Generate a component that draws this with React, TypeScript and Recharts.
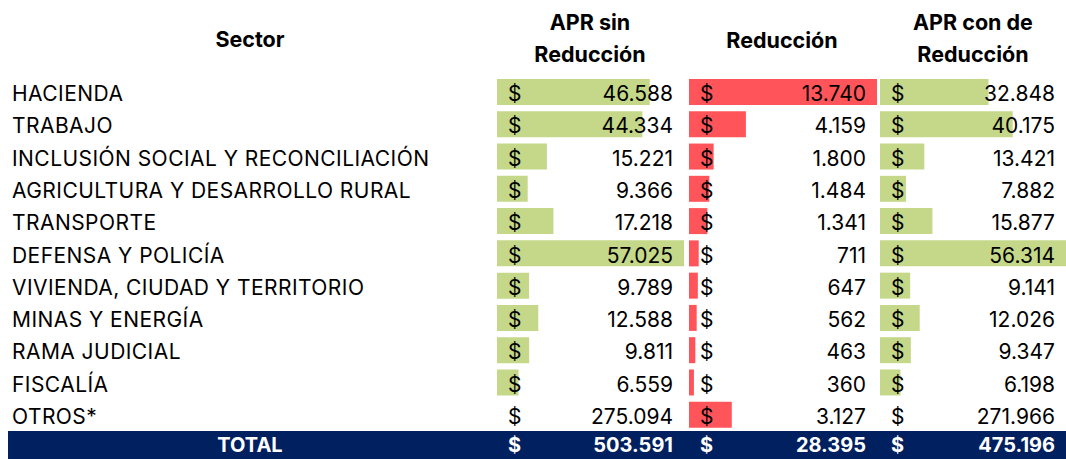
import React from "react";
import { BarChart, Bar, XAxis, YAxis } from "recharts";

const sectors = [
  "HACIENDA",
  "TRABAJO",
  "INCLUSIÓN SOCIAL Y RECONCILIACIÓN",
  "AGRICULTURA Y DESARROLLO RURAL",
  "TRANSPORTE",
  "DEFENSA Y POLICÍA",
  "VIVIENDA, CIUDAD Y TERRITORIO",
  "MINAS Y ENERGÍA",
  "RAMA JUDICIAL",
  "FISCALÍA",
  "OTROS*",
];
const aprSinReduccion = [46588, 44334, 15221, 9366, 17218, 57025, 9789, 12588, 9811, 6559, 275094];
const reduccion = [13740, 4159, 1800, 1484, 1341, 711, 647, 562, 463, 360, 3127];
const aprConReduccion = [32848, 40175, 13421, 7882, 15877, 56314, 9141, 12026, 9347, 6198, 271966];
const totals = [503591, 28395, 475196];
const headers = [["APR sin", "Reducción"], ["Reducción"], ["APR con de", "Reducción"]];
// rows that carry a data bar in the green columns (OTROS* has none)
const greenBarRows = 10;

const GREEN = "#C5D88A";
const RED = "#FF555A";
const NAVY = "#002060";
const FONT = "Inter, 'Liberation Sans', Arial, sans-serif";

const fmt = (v: number) => String(v).replace(/\B(?=(\d{3})+(?!\d))/g, ".");

const data = sectors.map((s, i) => ({
  sector: s,
  aprSin: aprSinReduccion[i],
  red: reduccion[i],
  aprCon: aprConReduccion[i],
  aprSinBar: i < greenBarRows ? aprSinReduccion[i] : null,
  redBar: reduccion[i],
  aprConBar: i < greenBarRows ? aprConReduccion[i] : null,
}));

const BODY_TOP = 76;
const BODY_H = 355;
const FS = 21;
const HFS = 21.5;
const AXIS_W = 1;

const columns = [
  { key: "aprSin", barKey: "aprSinBar", left: 497, width: 187, color: GREEN, center: 590 },
  { key: "red", barKey: "redBar", left: 689, width: 188, color: RED, center: 782 },
  { key: "aprCon", barKey: "aprConBar", left: 880, width: 186, color: GREEN, center: 973 },
];

function makeTick(colIdx: number, plotLeft: number) {
  const col = columns[colIdx];
  return (props: any) => {
    const { y, payload } = props;
    const i = sectors.indexOf(payload.value);
    const row: any = data[i];
    const base = y + 9;
    const dollarX = plotLeft + 11;
    const valX = plotLeft + col.width - 11;
    return (
      <g>
        {colIdx === 0 && (
          <text x={12} y={base} fontSize={FS} fill="#000" textAnchor="start" letterSpacing={0.45}>
            {row.sector}
          </text>
        )}
        <text x={dollarX} y={base} fontSize={FS} fill="#000" textAnchor="start">
          $
        </text>
        <text x={valX} y={base} fontSize={FS} fill="#000" textAnchor="end">
          {fmt(row[col.key])}
        </text>
      </g>
    );
  };
}

function ColumnChart({ idx }: { idx: number }) {
  const col = columns[idx];
  const marginLeft = idx === 0 ? col.left - AXIS_W : 0;
  const chartLeft = idx === 0 ? 0 : col.left - AXIS_W;
  const width = idx === 0 ? col.left + col.width : col.width + AXIS_W;
  const plotLeft = idx === 0 ? col.left : AXIS_W;
  return (
    <div style={{ position: "absolute", left: chartLeft, top: BODY_TOP }}>
      <BarChart
        width={width}
        height={BODY_H}
        data={data}
        layout="vertical"
        margin={{ top: 0, right: 0, bottom: 0, left: marginLeft }}
      >
        <XAxis type="number" hide domain={[0, "dataMax"]} />
        <Bar dataKey={col.barKey} fill={col.color} barSize={26} isAnimationActive={false} />
        <YAxis
          type="category"
          dataKey="sector"
          width={AXIS_W}
          axisLine={false}
          tickLine={false}
          interval={0}
          tick={makeTick(idx, plotLeft)}
        />
      </BarChart>
    </div>
  );
}

export default function App() {
  return (
    <div
      style={{
        position: "absolute",
        left: 0,
        top: 0,
        width: 1066,
        height: 459,
        background: "#fff",
        fontFamily: FONT,
        overflow: "hidden",
      }}
    >
      <div
        style={{
          position: "absolute",
          left: 150,
          width: 200,
          top: 23,
          lineHeight: "32px",
          fontSize: HFS,
          fontWeight: 700,
          textAlign: "center",
        }}
      >
        Sector
      </div>
      {headers.map((lines, i) => (
        <div
          key={i}
          style={{
            position: "absolute",
            left: columns[i].center - 100,
            width: 200,
            top: lines.length === 2 ? 6 : 24,
            lineHeight: "32px",
            fontSize: HFS,
            fontWeight: 700,
            textAlign: "center",
          }}
        >
          {lines.map((l, j) => (
            <div key={j}>{l}</div>
          ))}
        </div>
      ))}
      {columns.map((_, i) => (
        <ColumnChart key={i} idx={i} />
      ))}
      <div
        style={{
          position: "absolute",
          left: 8,
          top: 431,
          width: 1058,
          height: 28,
          background: NAVY,
          color: "#fff",
          fontWeight: 700,
          fontSize: 20,
          lineHeight: "28px",
        }}
      >
        <div style={{ position: "absolute", left: 150 - 8, width: 200, textAlign: "center" }}>TOTAL</div>
        {columns.map((c, i) => (
          <React.Fragment key={i}>
            <div style={{ position: "absolute", left: c.left + 11 - 8 }}>$</div>
            <div
              style={{
                position: "absolute",
                left: c.left - 8,
                width: c.width - 11,
                textAlign: "right",
              }}
            >
              {fmt(totals[i])}
            </div>
          </React.Fragment>
        ))}
      </div>
    </div>
  );
}
